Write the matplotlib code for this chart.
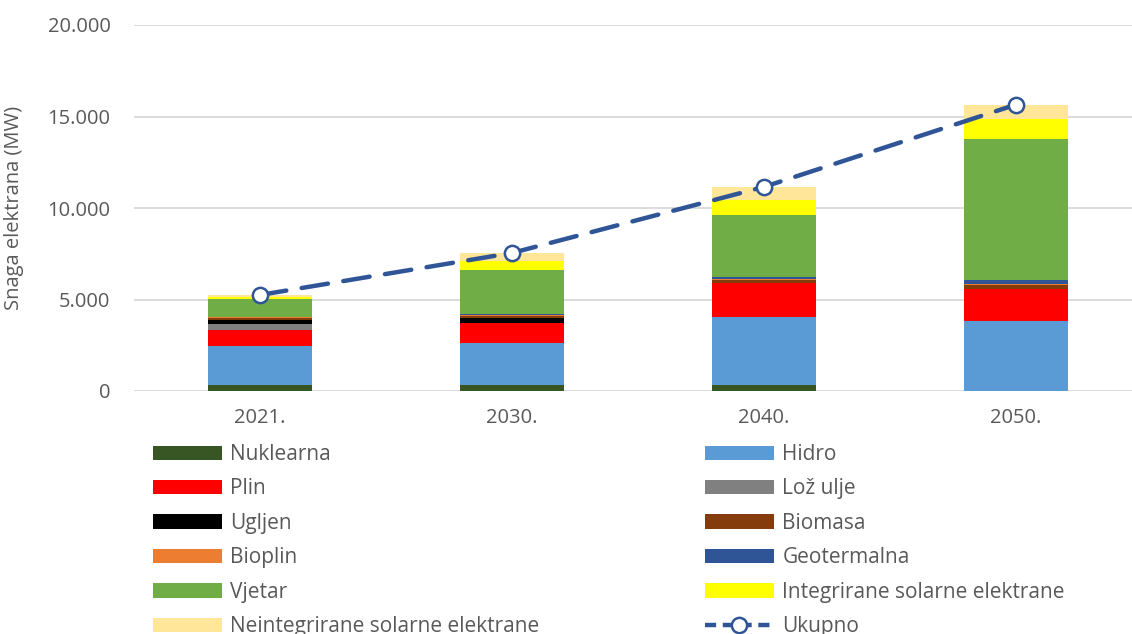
import numpy as np
import matplotlib
matplotlib.use('Agg')
import matplotlib.pyplot as plt
from matplotlib.patches import Patch
from matplotlib.lines import Line2D

years = ['2021.', '2030.', '2040.', '2050.']

nuklearna = [348, 348, 348, 0]
hidro = [2130, 2300, 3710, 3825]
plin = [855, 1075, 1825, 1750]
loz_ulje = [310, 20, 0, 0]
ugljen = [235, 230, 0, 0]
biomasa = [110, 150, 180, 215]
bioplin = [50, 40, 50, 70]
geotermalna = [10, 30, 100, 200]
vjetar = [1000, 2400, 3390, 7730]
integrirane = [80, 530, 860, 1050]
neintegrirane = [120, 420, 690, 810]

series = [
    ('Nuklearna', nuklearna, '#375623'),
    ('Hidro', hidro, '#5B9BD5'),
    ('Plin', plin, '#FF0000'),
    ('Lož ulje', loz_ulje, '#808080'),
    ('Ugljen', ugljen, '#000000'),
    ('Biomasa', biomasa, '#843C0C'),
    ('Bioplin', bioplin, '#ED7D31'),
    ('Geotermalna', geotermalna, '#2F5597'),
    ('Vjetar', vjetar, '#70AD47'),
    ('Integrirane solarne elektrane', integrirane, '#FFFF00'),
    ('Neintegrirane solarne elektrane', neintegrirane, '#FFE699'),
]

plt.rcParams['font.family'] = ['Open Sans', 'DejaVu Sans']
gray = '#595959'
fs = 14.5

fig = plt.figure(figsize=(11.32, 6.34), dpi=100)
ax = fig.add_axes([134 / 1132, 1 - 391 / 634, 998 / 1132, 366 / 634])

x = np.arange(len(years))
bottom = np.zeros(len(years))
handles = {}
for name, vals, color in series:
    vals = np.array(vals, dtype=float)
    ax.bar(x, vals, 0.41, bottom=bottom, color=color, zorder=2)
    bottom += vals
    handles[name] = Patch(facecolor=color)

ukupno = bottom
ax.plot(x, ukupno, color='#2F5597', lw=3.2, dashes=(6, 3.5), dash_capstyle='round',
        marker='o', ms=11, mfc='white', mec='#2F5597', mew=1.8, zorder=3)
line_h = Line2D([], [], color='#2F5597', lw=3.2, dashes=(2.5, 1.5), marker='o', ms=11,
                mfc='white', mec='#2F5597', mew=1.8)

ax.set_xlim(-0.5, -0.5 + 998 / 252)
ax.set_ylim(0, 20000)
ax.set_yticks(range(0, 20001, 5000))
ax.set_yticklabels([f'{v:,}'.replace(',', '.') for v in range(0, 20001, 5000)])
ax.set_xticks(x)
ax.set_xticklabels(years)
ax.tick_params(length=0, labelsize=fs, labelcolor=gray)
ax.tick_params(axis='y', pad=17)
ax.tick_params(axis='x', pad=12)
ax.grid(axis='y', color='#D9D9D9', lw=1.3, zorder=0)
for s in ax.spines.values():
    s.set_visible(False)
ax.set_ylabel('Snaga elektrana (MW)', fontsize=fs, color=gray)
ax.yaxis.set_label_coords(-0.11, 0.5)

col1 = ['Nuklearna', 'Plin', 'Ugljen', 'Bioplin', 'Vjetar', 'Neintegrirane solarne elektrane']
col2 = ['Hidro', 'Lož ulje', 'Biomasa', 'Geotermalna', 'Integrirane solarne elektrane']

common = dict(frameon=False, fontsize=15, labelcolor=gray, handlelength=3.3,
              handleheight=0.68, labelspacing=0.645, handletextpad=0.42,
              borderpad=0, borderaxespad=0, loc='upper left')
fig.legend([handles[n] for n in col1], col1, bbox_to_anchor=(153 / 1132, 1 - 444 / 634), **common)
fig.legend([handles[n] for n in col2] + [line_h], col2 + ['Ukupno'],
           bbox_to_anchor=(705 / 1132, 1 - 444 / 634), **common)

fig.savefig('out.png', dpi=100)
